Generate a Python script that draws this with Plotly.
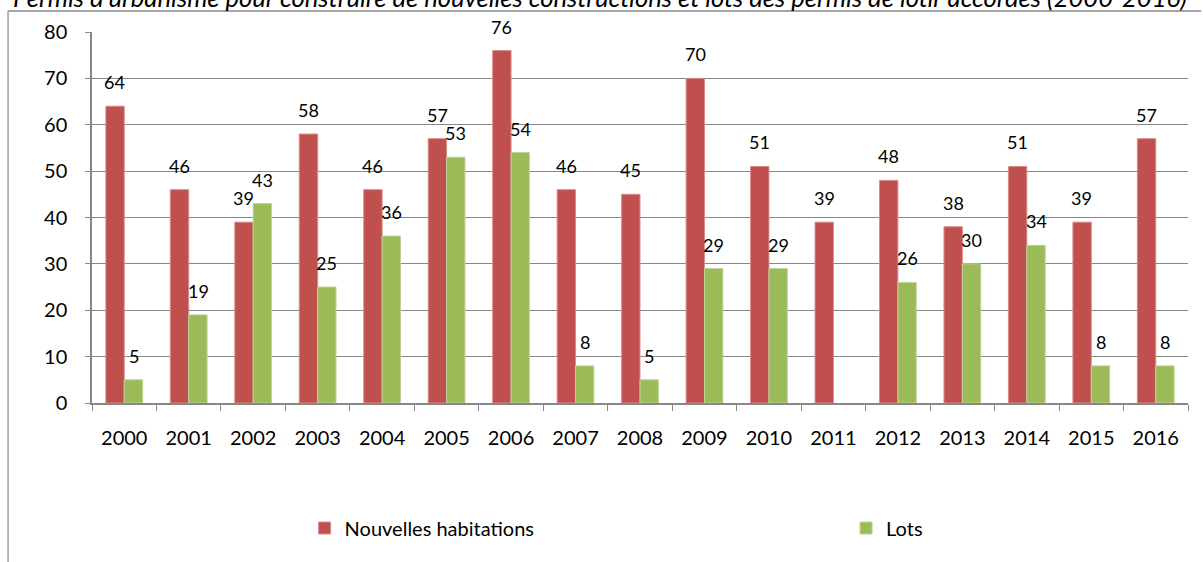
import plotly.graph_objects as go

years = [str(y) for y in range(2000, 2017)]
habitations = [64, 46, 39, 58, 46, 57, 76, 46, 45, 70, 51, 39, 48, 38, 51, 39, 57]
lots = [5, 19, 43, 25, 36, 53, 54, 8, 5, 29, 29, None, 26, 30, 34, 8, 8]

title = "Permis d'urbanisme pour construire de nouvelles constructions et lots des permis de lotir accordés (2000-2016)"

RED = "#C0504D"
GREEN = "#9BBB59"
GRID = "#878787"
FONT = "Lato"

fig = go.Figure()
fig.add_trace(go.Bar(x=years, y=habitations, name="Nouvelles habitations", legend="legend",
                     marker=dict(color=RED, line=dict(color="#D88C8A", width=1))))
fig.add_trace(go.Bar(x=years, y=lots, name="Lots", legend="legend2",
                     marker=dict(color=GREEN, line=dict(color="#BDD39A", width=1))))

# value labels, floating a bit above each bar (x given as category index)
annotations = []
for series, shift in ((habitations, -9.3), (lots, 9.3)):
    for i, v in enumerate(series):
        if v is None:
            continue
        annotations.append(dict(x=i, y=v, text=str(v), showarrow=False,
                                xshift=shift, yshift=24, yanchor="middle",
                                font=dict(size=18, color="black", family=FONT)))

# title sits mostly above the page edge, as in the source image
annotations.append(dict(x=0.4635, y=1.0946, xref="paper", yref="paper", text="<i>" + title + "</i>",
                        showarrow=False, yanchor="middle", xanchor="center",
                        font=dict(size=25.6, color="black", family=FONT)))

fig.update_layout(
    width=1203, height=562,
    margin=dict(l=92, r=15, t=32, b=159, autoexpand=False),
    plot_bgcolor="white", paper_bgcolor="white",
    barmode="group", bargap=0.43, bargroupgap=0,
    font=dict(family=FONT, color="black", size=20),
    annotations=annotations,
    showlegend=True,
    legend=dict(orientation="h", x=0.194, y=-0.337, xanchor="left", yanchor="middle",
                font=dict(size=20, family=FONT), visible=True),
    legend2=dict(orientation="h", x=0.688, y=-0.337, xanchor="left", yanchor="middle",
                 font=dict(size=20, family=FONT), visible=True),
    shapes=[
        dict(type="line", xref="paper", yref="paper", x0=-0.0766, x1=1.012, y0=1.0566, y1=1.0566,
             line=dict(color=GRID, width=1.5)),
        dict(type="line", xref="paper", yref="paper", x0=-0.0766, x1=-0.0766, y0=1.0566, y1=-0.45,
             line=dict(color="#A0A0A0", width=1.5)),
    ],
)
fig.update_xaxes(type="category", range=[-0.5, len(years) - 0.5], showline=True,
                 linecolor=GRID, linewidth=1.5, ticks="outside", tickson="boundaries",
                 ticklen=6, tickcolor=GRID, ticklabelstandoff=16, showgrid=False,
                 tickangle=0, tickfont=dict(size=20), automargin=False)
fig.update_yaxes(range=[0, 80], dtick=10, showline=True, linecolor=GRID, linewidth=1.5,
                 ticks="outside", ticklen=5, tickcolor=GRID, ticklabelstandoff=14,
                 showgrid=True, gridcolor=GRID, gridwidth=1, zeroline=False,
                 tickfont=dict(size=20), automargin=False)

# drop the default 8px page margin so the figure sits at the window's corner
fig.write_html("out.html", config={"displayModeBar": False},
               post_script="document.body.style.margin='0';document.body.style.overflow='hidden';")
